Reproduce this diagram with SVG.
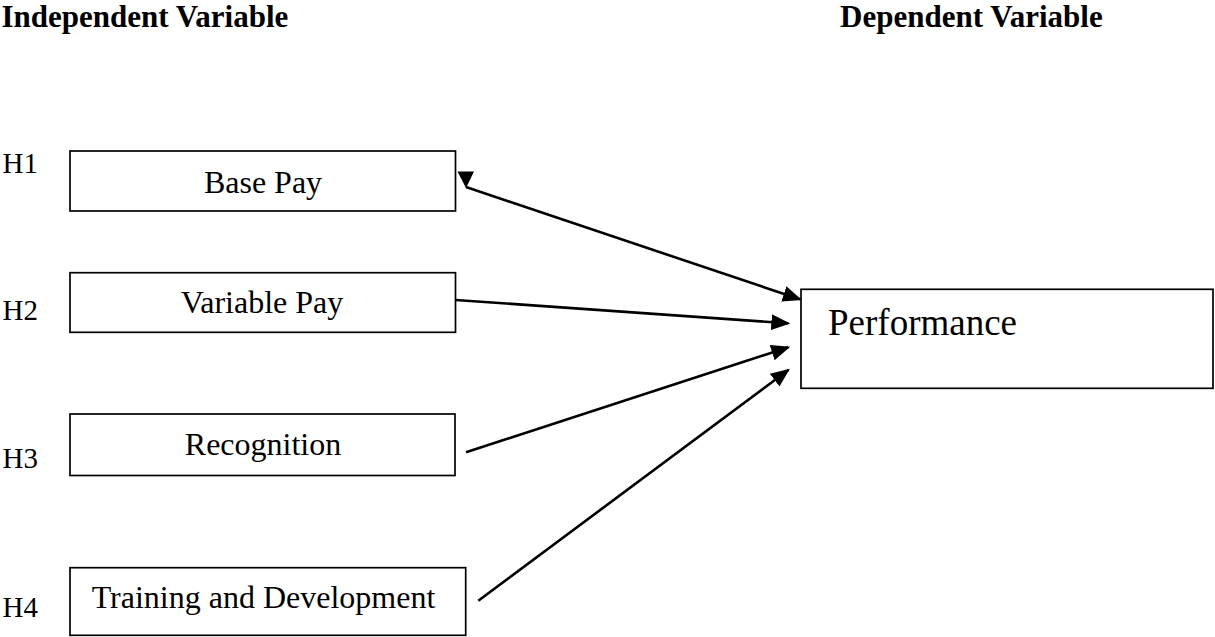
<svg xmlns="http://www.w3.org/2000/svg" width="1215" height="637" viewBox="0 0 1215 637">
<style>
  .box { fill: #fff; stroke: #000; stroke-width: 1.7; }
  .t { font-family: "Liberation Serif", "Times New Roman", serif; fill: #000; }
  .hdr { font-size: 31px; font-weight: bold; }
  .h { font-size: 29px; }
  .lbl { font-size: 32px; text-anchor: middle; }
  .conn { stroke: #000; stroke-width: 2.6; fill: none; marker-end: url(#ah); }
</style>
<defs>
  <marker id="ah" markerUnits="userSpaceOnUse" markerWidth="22" markerHeight="18" refX="17" refY="8" orient="auto">
    <path d="M0,0 L19,8 L0,16 z" fill="#000"/>
  </marker>
</defs>
<rect width="1215" height="637" fill="#fff"/>
<text class="t hdr" x="1.5" y="26.5">Independent Variable</text>
<text class="t hdr" x="840" y="26.5">Dependent Variable</text>

<g id="h-labels">
  <text class="t h" x="2.5" y="173">H1</text>
  <text class="t h" x="2.5" y="320">H2</text>
  <text class="t h" x="2.5" y="468">H3</text>
  <text class="t h" x="2.5" y="616.5">H4</text>
</g>

<g id="node-basepay">
  <rect class="box" x="70" y="151" width="385.5" height="60"/>
  <text class="t lbl" x="263" y="192.7">Base Pay</text>
</g>
<g id="node-variablepay">
  <rect class="box" x="70" y="272.7" width="385.5" height="59.6"/>
  <text class="t lbl" x="262" y="313.3">Variable Pay</text>
</g>
<g id="node-recognition">
  <rect class="box" x="70" y="414" width="385" height="61.5"/>
  <text class="t lbl" x="263" y="455">Recognition</text>
</g>
<g id="node-training">
  <rect class="box" x="70" y="567.7" width="395.7" height="67.6"/>
  <text class="t lbl" x="263.5" y="608">Training and Development</text>
</g>
<g id="node-performance">
  <rect class="box" x="801" y="289.3" width="412" height="99"/>
  <text class="t" x="828" y="335" font-size="37">Performance</text>
</g>

<g id="connectors">
  <line class="conn" x1="466" y1="187" x2="800" y2="299.3"/>
  <polygon points="457.5,171.5 474,171.5 466,188" fill="#000"/>
  <line class="conn" x1="455.5" y1="300" x2="788.3" y2="323.3"/>
  <line class="conn" x1="466" y1="452.3" x2="788.3" y2="347.3"/>
  <line class="conn" x1="478.3" y1="600.7" x2="788.3" y2="370"/>
</g>
</svg>
